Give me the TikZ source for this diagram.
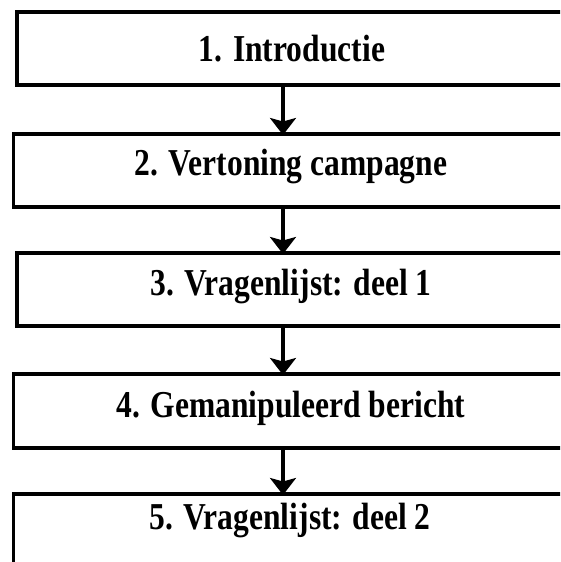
\documentclass[tikz,border=0pt]{standalone}
\usepackage{fontspec}
\setmainfont{Liberation Serif}
\usetikzlibrary{arrows.meta}
\tikzset{
  stepbox/.style={draw=black, line width=3.5pt, inner sep=0pt, outer sep=0pt, rectangle},
  lbl/.style={inner sep=0pt, anchor=base, font=\bfseries\fontsize{38}{42}\selectfont},
  conn/.style={line width=3.2pt, -{Stealth[length=17pt,width=26pt,inset=3.5pt]}, shorten >=-1pt}
}
\newcommand{\sq}[1]{\scalebox{0.83}[1]{#1}}
\begin{document}
\begin{tikzpicture}[x=1pt,y=-1pt]
\useasboundingbox (0,0) rectangle (560,562);
\clip (0,0) rectangle (560,562);
\node[stepbox, minimum width=558pt, minimum height=73pt] (b1) at (296,48.5) {};
\node[stepbox, minimum width=561.5pt, minimum height=73pt] (b2) at (294.25,170.5) {};
\node[stepbox, minimum width=558pt, minimum height=73pt] (b3) at (296,289.5) {};
\node[stepbox, minimum width=561.5pt, minimum height=74pt] (b4) at (294.25,411) {};
\node[stepbox, minimum width=561.5pt, minimum height=106pt] (b5) at (294.25,547) {};
\node[lbl] (t1) at (292,61) {\sq{1. Introductie}};
\node[lbl] (t2) at (291,175) {\sq{2. Vertoning campagne}};
\node[lbl] (t3) at (291,295) {\sq{3. Vragenlijst: deel 1}};
\node[lbl] (t4) at (291,417) {\sq{4. Gemanipuleerd bericht}};
\node[lbl] (t5) at (290,529) {\sq{5. Vragenlijst: deel 2}};
\coordinate (ax) at (283,0);
\draw[conn] (b1.south -| ax) -- (b2.north -| ax);
\draw[conn] (b2.south -| ax) -- (b3.north -| ax);
\draw[conn] (b3.south -| ax) -- (b4.north -| ax);
\draw[conn] (b4.south -| ax) -- (b5.north -| ax);
\end{tikzpicture}
\end{document}
